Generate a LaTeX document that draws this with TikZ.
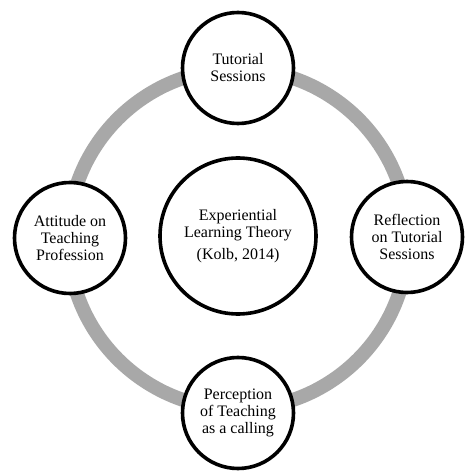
\documentclass[tikz,border=0pt]{standalone}
\usepackage{fontspec}
\setmainfont{Liberation Serif}
\definecolor{ringgray}{HTML}{A8A8A8}
\begin{document}
\begin{tikzpicture}[x=1pt,y=-1pt,
  bubble/.style={circle,draw=black,line width=3.6pt,fill=white,minimum size=111pt,inner sep=0pt,align=center,font=\fontsize{16}{17}\selectfont},
  hub/.style={bubble,minimum size=156pt}]
\useasboundingbox (0,0) rectangle (474,473);
\fill[white] (0,0) rectangle (474,473);
\coordinate (c) at (238,239);
\draw[line width=14pt,color=ringgray] (c) circle[radius=170pt];
\node[hub] (center) at (238,236) {Experiential\\Learning Theory\\[5pt](Kolb, 2014)};
\node[bubble] (top) at (238,68) {Tutorial\\Sessions};
\node[bubble] (left) at (70,238) {Attitude on\\Teaching\\Profession};
\node[bubble] (right) at (407,237) {Reflection\\on Tutorial\\Sessions};
\node[bubble] (bottom) at (238,413) {Perception\\of Teaching\\as a calling};
\end{tikzpicture}
\end{document}
